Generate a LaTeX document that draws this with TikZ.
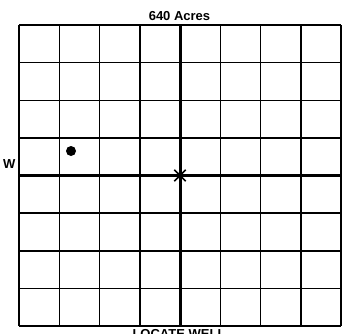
\documentclass[tikz,border=0pt]{standalone}
\usepackage{fontspec}
\setmainfont{Liberation Sans}
\usepackage{tikz}
\usetikzlibrary{positioning}

\begin{document}
\begin{tikzpicture}[x=1pt,y=-1pt,font=\fontsize{13}{15}\selectfont\bfseries,
  gridline/.style={draw=black,line width=1.5pt},
  axisline/.style={draw=black,line width=3pt},
  label/.style={inner sep=0pt}]
  \useasboundingbox (0,0) rectangle (343,333);
  % section grid, 8 x 8
  \foreach \i in {0,...,8} {
    \draw[gridline] ({19+40.25*\i},25) -- ({19+40.25*\i},326);
    \draw[gridline] (19,{25+37.625*\i}) -- (341,{25+37.625*\i});
  }
  % centre lines
  \draw[axisline] (180,25) -- (180,326);
  \draw[axisline] (19,175.5) -- (341,175.5);
  % labels
  \node[label,anchor=south] (title) at (179.5,20.5) {640 Acres};
  \node[label,anchor=east] (west) at (15.5,164) {W};
  \node[label,anchor=north] (locate) at (179,329.5) {LOCATE WELL};
  % wells
  \node[circle,fill=black,inner sep=0pt,minimum size=10pt] (dot) at (71,151) {};
  \node[circle,fill=black,inner sep=0pt,minimum size=6.5pt] (well) at (180,175.5) {};
  \foreach \a in {45,135,225,315}
    \draw[line width=1.7pt] (well.center) -- ++(\a:8);
\end{tikzpicture}
\end{document}
